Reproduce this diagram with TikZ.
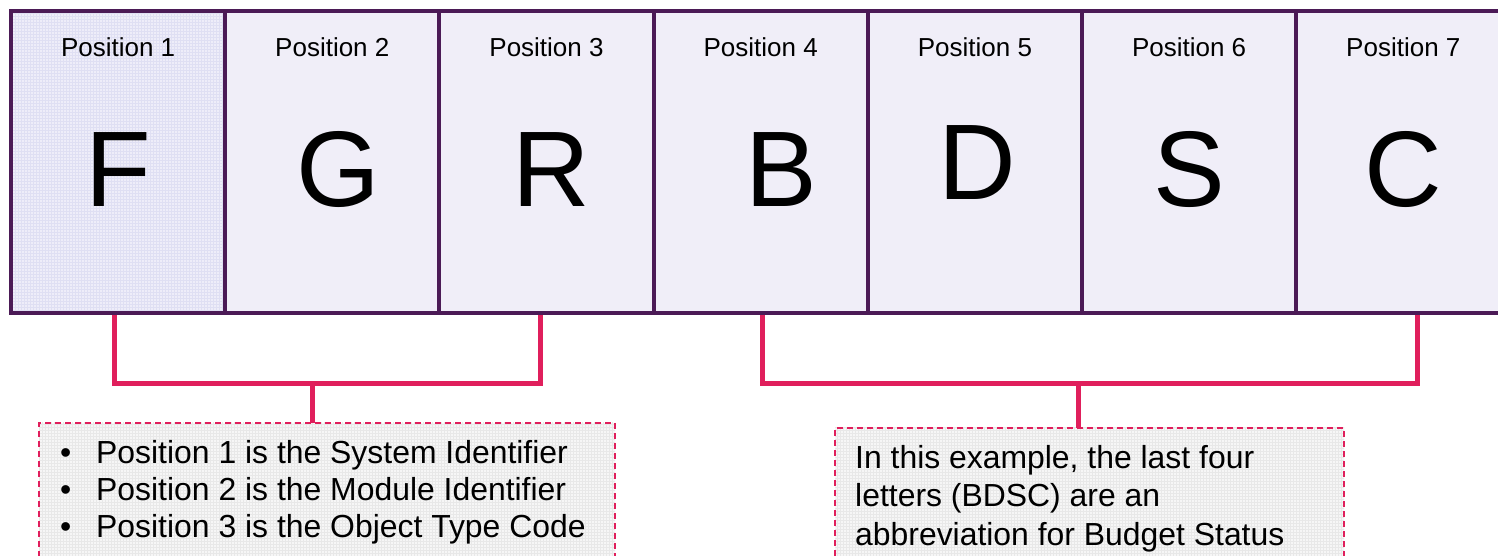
\documentclass[tikz,border=0pt]{standalone}
\usepackage{fontspec}
\setmainfont{Liberation Sans}
\usetikzlibrary{patterns}
\definecolor{boxfill}{HTML}{F0EEF8}
\definecolor{firstfill}{HTML}{EEEDF9}
\definecolor{firstgrid}{HTML}{DFDFF3}
\definecolor{boxline}{HTML}{4B1A56}
\definecolor{bracketred}{HTML}{E01F5C}
\definecolor{notefill}{HTML}{F6F6F6}
\definecolor{notegrid}{HTML}{E8E8E8}
\tikzset{
  posbox/.style={draw=boxline, line width=4pt, fill=boxfill, minimum width=214.2pt,
    minimum height=301pt, inner sep=0pt, outer sep=0pt},
  poslabel/.style={anchor=base, inner sep=0pt, font=\fontsize{26}{30}\selectfont},
  bigletter/.style={anchor=base, inner sep=0pt, font=\fontsize{107.5}{120}\selectfont},
  bracket/.style={draw=bracketred, line width=5pt},
  notebox/.style={draw=bracketred, dash pattern=on 6pt off 4pt, line width=2pt,
    preaction={fill=notefill}, pattern=grid, pattern color=notegrid,
    inner sep=0pt, outer sep=0pt, anchor=north west},
  notetext/.style={anchor=base west, inner sep=0pt, font=\fontsize{31.9}{37.5}\selectfont}
}

\begin{document}
\begin{tikzpicture}[x=1pt,y=-1pt]
    \useasboundingbox (0,0) rectangle (1498,556);
    \clip (0,0) rectangle (1498,556);

    \coordinate (la) at (114,314);
    \coordinate (lm) at (312,383);
    \coordinate (lb) at (540,314);
    \coordinate (ra) at (762,314);
    \coordinate (rm) at (1078,383);
    \coordinate (rb) at (1417,314);

    \node[notebox, minimum width=576pt, minimum height=160pt] (n1) at (39,422.7) {};
    \node[notebox, minimum width=509pt, minimum height=160pt] (n2) at (835,427.7) {};

    \draw[bracket] (la) |- (lm) -| (lb);
    \draw[bracket] (lm) -- (lm |- n1.north);
    \draw[bracket] (ra) |- (rm) -| (rb);
    \draw[bracket] (rm) -- (rm |- n2.north);

    \foreach \i in {2,...,7}
        \node[posbox] (p\i) at ({11+214.2*(\i-0.5)},162) {};
    \node[posbox, preaction={fill=firstfill}, pattern=grid, pattern color=firstgrid] (p1) at (118.1,162) {};

    \foreach \c/\dx/\y [count=\i] in {F/0/207, G/6/207, R/5/207, B/21/207, D/2/200, S/0/207, C/0/207} {
        \node[poslabel] (lab\i) at ({11+214.2*(\i-0.5)},57) {Position \i};
        \node[bigletter] (let\i) at ({11+214.2*(\i-0.5)+\dx},\y) {\c};
    }

    \foreach \t [count=\i] in {Position 1 is the System Identifier, Position 2 is the Module Identifier, Position 3 is the Object Type Code} {
        \node[notetext] (dot\i) at (60,{463+37*(\i-1)}) {\textbullet};
        \node[notetext] (item\i) at (96,{463+37*(\i-1)}) {\t};
    }
    \foreach \t [count=\i] in {{In this example, the last four}, {letters (BDSC) are an}, {abbreviation for Budget Status}}
        \node[notetext] (line\i) at (855,{468+38.5*(\i-1)}) {\t};
\end{tikzpicture}
\end{document}
